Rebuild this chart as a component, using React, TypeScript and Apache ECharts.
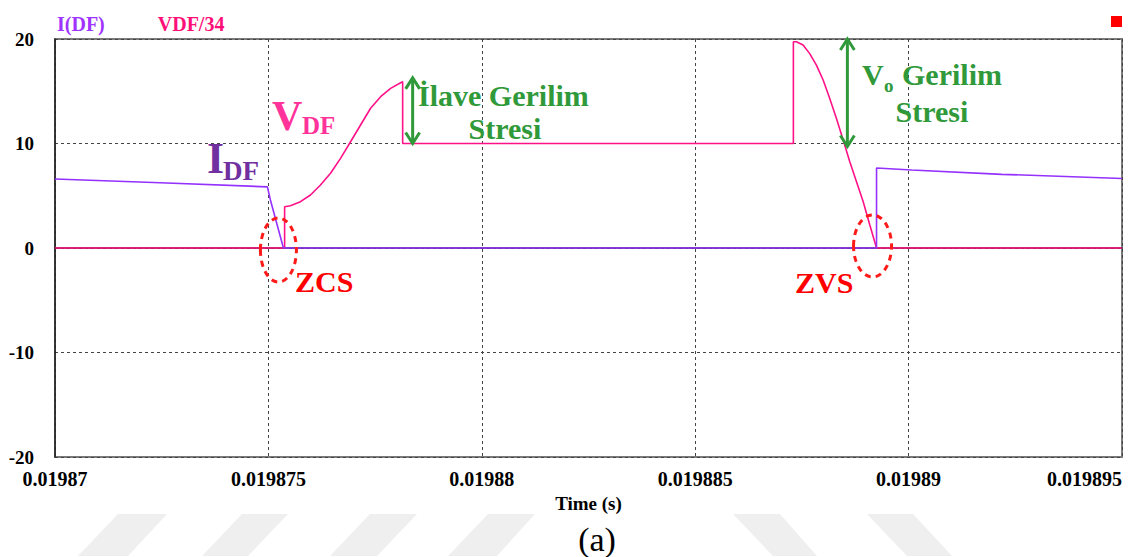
import React, { useEffect, useRef } from 'react';
import * as echarts from 'echarts';

// I(DF) waveform (time in s, current in A)
const idfTime = [0.01987, 0.019872465, 0.0198749765, 0.019875047, 0.019875352, 0.0198892487, 0.0198892487, 0.0198900703, 0.0198921829, 0.019895];
const idfValue = [6.6, 6.25, 5.85, 4.6, 0, 0, 7.65, 7.46, 7.05, 6.65];

// VDF/34 waveform
const vdfTime = [
  0.01987, 0.01987538, 0.01987538, 0.019875516, 0.0198757511, 0.0198759859, 0.0198762206,
  0.0198764554, 0.0198766901, 0.0198769248, 0.0198771596, 0.0198773943, 0.0198776291, 0.0198778638,
  0.0198780985, 0.0198781455, 0.0198781455,
  0.0198873003, 0.0198873003, 0.0198873708, 0.019887528, 0.019887683, 0.0198878402, 0.0198879975,
  0.0198881524, 0.0198883097, 0.019888467, 0.0198886219, 0.0198887792, 0.0198889365, 0.0198890914,
  0.0198892487, 0.019895,
];
const vdfValue = [
  0, 0, 3.95, 4.05, 4.43, 5.07, 6.03,
  7.15, 8.58, 10.17, 11.77, 13.37, 14.48, 15.28,
  15.82, 15.9, 10,
  10, 19.74, 19.74, 19.43, 18.6, 17.5, 16.08,
  14.3, 12.4, 10.33, 8.26, 6.35, 4.43, 2.2,
  0, 0,
];

const seriesNames = ['I(DF)', 'VDF/34'];
const xMin = 0.01987;
const xMax = 0.019895;
const xStep = 0.000005;
const yMin = -20;
const yMax = 20;
const yStep = 10;

const FONT = 'Liberation Serif';
const PURPLE = '#9431ff';
const PINK = '#ff1188';
const GREEN = '#30993a';
const RED = '#ff1a1a';

export default function App() {
  const ref = useRef<HTMLDivElement>(null);

  useEffect(() => {
    const chart = echarts.init(ref.current!, null, { renderer: 'svg' });
    const dotted = { color: '#444', type: [3, 3] as any, width: 1 };
    const legendText = { fontFamily: FONT, fontWeight: 'bold', fontSize: 20 };
    chart.setOption({
      animation: false,
      backgroundColor: '#fff',
      textStyle: { fontFamily: FONT },
      grid: { left: 55, right: 9, top: 39, bottom: 100, show: true, borderColor: '#7a7a7a', borderWidth: 2, backgroundColor: 'transparent' },
      legend: {
        left: 47,
        top: 9,
        icon: 'none',
        itemWidth: 0,
        itemHeight: 14,
        itemGap: 48,
        selectedMode: false,
        textStyle: legendText,
        data: [
          { name: seriesNames[0], textStyle: { ...legendText, color: '#a033ff' } },
          { name: seriesNames[1], textStyle: { ...legendText, color: '#ff0f78' } },
        ],
      },
      xAxis: {
        type: 'value',
        min: xMin,
        max: xMax,
        interval: xStep,
        name: 'Time (s)',
        nameLocation: 'middle',
        nameGap: 34,
        nameTextStyle: { fontFamily: FONT, fontWeight: 'bold', fontSize: 19, color: '#000' },
        axisLine: { show: true, lineStyle: { color: '#222', width: 1.5 } },
        axisTick: { show: false },
        axisLabel: {
          fontFamily: FONT, fontWeight: 'bold', fontSize: 20, color: '#000', margin: 12,
          alignMinLabel: 'center', alignMaxLabel: 'right',
          formatter: (v: number) => parseFloat(v.toFixed(6)).toString(),
        },
        splitLine: { show: true, lineStyle: dotted },
      },
      yAxis: {
        type: 'value',
        min: yMin,
        max: yMax,
        interval: yStep,
        axisLine: { show: true, lineStyle: { color: '#222', width: 1.5 } },
        axisTick: { show: false },
        axisLabel: { fontFamily: FONT, fontWeight: 'bold', fontSize: 19, color: '#000', margin: 21 },
        splitLine: { show: true, lineStyle: dotted },
      },
      series: [
        {
          name: seriesNames[1],
          type: 'line',
          showSymbol: false,
          color: PINK,
          lineStyle: { color: PINK, width: 1.6 },
          data: vdfTime.map((t, i) => [t, vdfValue[i]]),
          z: 2,
        },
        {
          name: seriesNames[0],
          type: 'line',
          showSymbol: false,
          color: PURPLE,
          lineStyle: { color: PURPLE, width: 1.6 },
          data: idfTime.map((t, i) => [t, idfValue[i]]),
          z: 3,
        },
      ],
    });

    const p = (t: number, v: number) => chart.convertToPixel({ gridIndex: 0 }, [t, v]) as number[];
    const [xDrop, y10] = p(vdfTime[15], 10);
    const yPeak1 = p(vdfTime[15], vdfValue[15])[1];
    const [xJump, y20] = p(vdfTime[18], 20);
    const [xZcs, y0] = p(idfTime[4], 0);
    const xZvs = p(idfTime[5], 0)[0];

    const arrow = (x: number, yTop: number, yBot: number) => [
      { type: 'line', shape: { x1: x, y1: yTop + 1, x2: x, y2: yBot - 1 }, style: { stroke: GREEN, lineWidth: 3 }, z: 10 },
      { type: 'polyline', shape: { points: [[x - 7, yTop + 11], [x, yTop], [x + 7, yTop + 11]] }, style: { stroke: GREEN, lineWidth: 3, fill: null }, z: 10 },
      { type: 'polyline', shape: { points: [[x - 7, yBot - 11], [x, yBot], [x + 7, yBot - 11]] }, style: { stroke: GREEN, lineWidth: 3, fill: null }, z: 10 },
    ];

    const txt = (text: string, x: number, y: number, size: number, color: string, align = 'left', weight = 'bold') => ({
      type: 'text', x, y, z: 10,
      style: { text, fontFamily: FONT, fontWeight: weight, fontSize: size, fill: color, align, verticalAlign: 'middle' },
    });

    const wm = (pts: number[][]) => ({ type: 'polygon', shape: { points: pts }, style: { fill: '#efefef' }, z: -1 });

    chart.setOption({
      graphic: {
        elements: [
          wm([[118, 514], [167, 514], [128, 556], [78, 556]]),
          wm([[242, 514], [288, 514], [248, 556], [202, 556]]),
          wm([[370, 514], [417, 514], [377, 556], [330, 556]]),
          wm([[488, 514], [535, 514], [497, 556], [448, 556]]),
          wm([[733, 514], [780, 514], [817, 556], [773, 556]]),
          wm([[867, 514], [913, 514], [952, 556], [907, 556]]),
          ...arrow(xDrop + 10, yPeak1 - 4, y10),
          ...arrow(xJump + 54, y20, y10 + 3),
          { type: 'ellipse', z: 10, shape: { cx: xZcs - 5, cy: y0 + 2, rx: 18, ry: 32 }, style: { fill: null, stroke: RED, lineWidth: 3, lineDash: [6, 5] } },
          { type: 'ellipse', z: 10, shape: { cx: xZvs - 4, cy: y0 - 2, rx: 19, ry: 31 }, style: { fill: null, stroke: RED, lineWidth: 3, lineDash: [6, 5] } },
          txt('I', 207, 158, 44, '#7030a0'),
          txt('DF', 223, 171, 27, '#7030a0'),
          txt('V', 272, 116, 42, '#ff3399'),
          txt('DF', 302, 125, 25, '#ff3399'),
          txt('ZCS', 295, 281, 30, '#ff0000'),
          txt('ZVS', 795, 282, 30, '#ff0000'),
          txt('İlave Gerilim', 418, 95, 30, GREEN),
          txt('Stresi', 505, 128, 30, GREEN, 'center'),
          txt('V', 862, 74, 30, GREEN),
          txt('o', 884, 85, 19, GREEN),
          txt('Gerilim', 902, 74, 30, GREEN),
          txt('Stresi', 932, 111, 30, GREEN, 'center'),
          txt('(a)', 597, 539, 34, '#000', 'center', 'normal'),
          { type: 'rect', z: 10, shape: { x: 1111, y: 16, width: 11, height: 11 }, style: { fill: '#ff0000' } },
        ],
      },
    });

    return () => chart.dispose();
  }, []);

  return <div ref={ref} style={{ position: 'absolute', left: 0, top: 0, width: 1131, height: 557 }} />;
}
